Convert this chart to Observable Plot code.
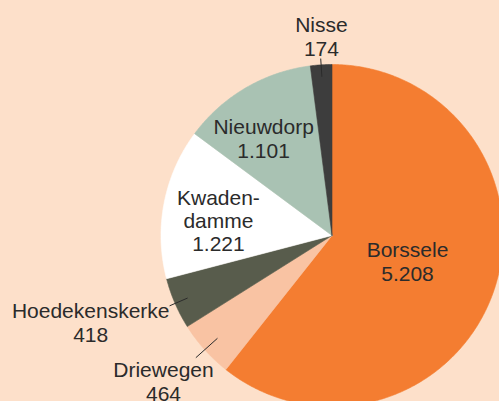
<!DOCTYPE html>
<html>
<head>
<meta charset="utf-8">
<script src="https://cdn.jsdelivr.net/npm/d3@7"></script>
<script src="https://cdn.jsdelivr.net/npm/@observablehq/plot@0.6"></script>
<style>
  html, body { margin: 0; padding: 0; background: #FDE0CA; overflow: hidden; }
  #chart svg { overflow: hidden; display: block; }
</style>
</head>
<body>
<div id="chart"></div>
<script>
// ---- data ----
const villages = ["Borssele", "Driewegen", "Hoedekenskerke", "Kwadendamme", "Nieuwdorp", "Nisse"];
const labelNames = ["Borssele", "Driewegen", "Hoedekenskerke", "Kwaden-\ndamme", "Nieuwdorp", "Nisse"];
const inhabitants = [5208, 464, 418, 1221, 1101, 174];
const sliceColors = ["#F47D31", "#F9C3A3", "#585C4C", "#FFFFFF", "#A9C2B3", "#3D3D3D"];

// ---- layout (pie geometry in pixels, label placement in radius units) ----
const W = 499, H = 401;
const CX = 331.5, CY = 235, R = 171;
// radial distance of each label (fraction of radius) and angular nudge (degrees)
const labelRadius = [0.467, 1.304, 1.50, 0.67, 0.694, 1.166];
const labelShift = [-0.2, 1.0, 3.6, -3.4, -4.8, 0.6];
// leader lines (fraction of radius), null = no leader
const leaderFrom = [null, 0.90, 0.92, null, null, 0.93];
const leaderTo = [null, 1.07, 1.035, null, null, 1.037];

const nl = d3.formatLocale({decimal: ",", thousands: ".", grouping: [3], currency: ["€", ""]});
const fmt = nl.format(",d");

const pie = d3.pie().sort(null).startAngle(0).endAngle(2 * Math.PI)(inhabitants);
const polar = (a, rf) => ({x: rf * Math.sin(a), y: rf * Math.cos(a)});

// slice polygons (arc traced by geometry, not data)
const poly = [];
pie.forEach((p, i) => {
  const name = villages[i];
  poly.push({name, ...polar(0, 0)});
  const n = Math.max(2, Math.ceil((p.endAngle - p.startAngle) / (Math.PI / 360)));
  for (let k = 0; k <= n; k++) {
    const a = p.startAngle + (p.endAngle - p.startAngle) * k / n;
    poly.push({name, ...polar(a, 1)});
  }
  poly.push({name, ...polar(0, 0)});
});

const labels = pie.map((p, i) => {
  const mid = (p.startAngle + p.endAngle) / 2 + labelShift[i] * Math.PI / 180;
  return {text: labelNames[i] + "\n" + fmt(inhabitants[i]), ...polar(mid, labelRadius[i])};
});

const leaders = [];
pie.forEach((p, i) => {
  if (leaderFrom[i] == null) return;
  const mid = (p.startAngle + p.endAngle) / 2;
  const a = polar(mid, leaderFrom[i]), b = polar(mid, leaderTo[i]);
  leaders.push({x1: a.x, y1: a.y, x2: b.x, y2: b.y});
});

const chart = Plot.plot({
  width: W,
  height: H,
  margin: 0,
  style: {background: "#FDE0CA", fontFamily: "'Liberation Sans', Arial, sans-serif"},
  x: {domain: [(0 - CX) / R, (W - CX) / R], axis: null},
  y: {domain: [(CY - H) / R, CY / R], axis: null},
  color: {domain: villages, range: sliceColors},
  marks: [
    Plot.line(poly, {x: "x", y: "y", z: "name", fill: "name", stroke: "name", strokeWidth: 0.6, curve: "linear"}),
    Plot.link(leaders, {x1: "x1", y1: "y1", x2: "x2", y2: "y2", stroke: "#2b2b2b", strokeWidth: 1}),
    Plot.text(labels, {x: "x", y: "y", text: "text", fontSize: 21, lineHeight: 1.11, fill: "#2b2b2b"})
  ]
});
document.getElementById("chart").appendChild(chart);
</script>
</body>
</html>
